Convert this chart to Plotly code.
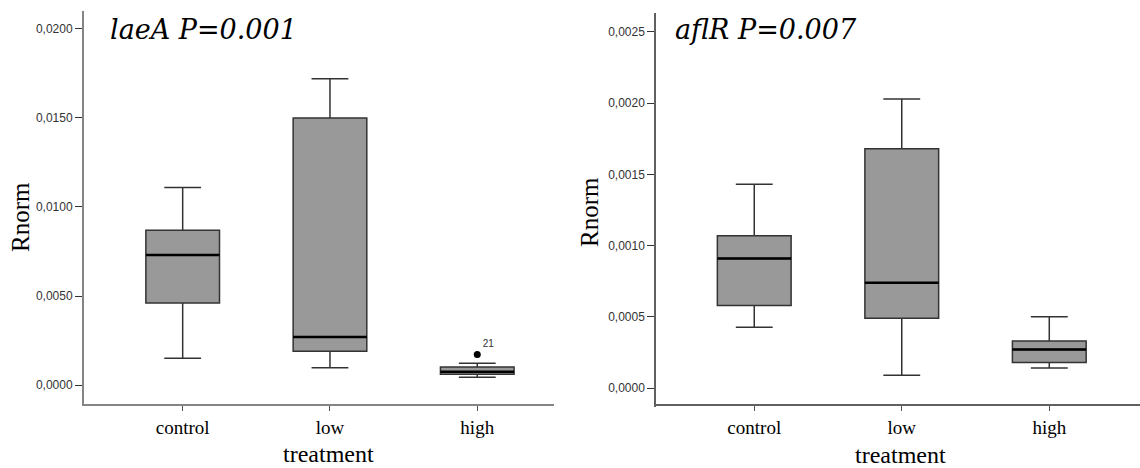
import plotly.graph_objects as go

categories = ["control", "low", "high"]
cat_pos = [0, 1, 2]

# laeA panel
laeA_lower = [0.0015, 0.00097, 0.00043]
laeA_q1 = [0.0046, 0.0019, 0.0006]
laeA_median = [0.0073, 0.0027, 0.00075]
laeA_q3 = [0.0087, 0.0150, 0.00101]
laeA_upper = [0.0111, 0.0172, 0.00122]
laeA_outlier_cat = [2]
laeA_outlier_val = [0.00172]
laeA_outlier_lbl = ["21"]
laeA_ticks = [0.0, 0.005, 0.010, 0.015, 0.020]
laeA_ticktext = ["0,0000", "0,0050", "0,0100", "0,0150", "0,0200"]

# aflR panel
aflR_lower = [0.000426, 0.00009, 0.00014]
aflR_q1 = [0.00058, 0.00049, 0.00018]
aflR_median = [0.00091, 0.00074, 0.00027]
aflR_q3 = [0.00107, 0.00168, 0.00033]
aflR_upper = [0.00143, 0.00203, 0.00050]
aflR_ticks = [0.0, 0.0005, 0.0010, 0.0015, 0.0020, 0.0025]
aflR_ticktext = ["0,0000", "0,0005", "0,0010", "0,0015", "0,0020", "0,0025"]

W, H = 1140, 468
BOX_W = 0.5
SERIF = "Liberation Serif"
TITLE_FONT = "DejaVu Serif"
SANS = "Liberation Sans, Arial, sans-serif"

fig = go.Figure()

def add_panel(xa, ya, lower, q1, med, q3, upper):
    fig.add_trace(go.Box(
        x=cat_pos, q1=q1, median=med, q3=q3, lowerfence=lower, upperfence=upper,
        width=BOX_W, whiskerwidth=0.5, boxpoints=False,
        fillcolor="#999999", line=dict(color="#333333", width=1.5),
        xaxis=xa, yaxis=ya, showlegend=False, hoverinfo="skip"))
    for p, m in zip(cat_pos, med):
        fig.add_trace(go.Scatter(
            x=[p - BOX_W / 2, p + BOX_W / 2], y=[m, m], mode="lines",
            line=dict(color="#000000", width=2.5),
            xaxis=xa, yaxis=ya, showlegend=False, hoverinfo="skip"))

add_panel("x", "y", laeA_lower, laeA_q1, laeA_median, laeA_q3, laeA_upper)
add_panel("x2", "y2", aflR_lower, aflR_q1, aflR_median, aflR_q3, aflR_upper)

fig.add_trace(go.Scatter(
    x=laeA_outlier_cat, y=laeA_outlier_val, mode="markers+text",
    text=laeA_outlier_lbl, textposition="top right",
    textfont=dict(family=SANS, size=10, color="#333333"),
    marker=dict(color="#000000", size=7),
    xaxis="x", yaxis="y", showlegend=False, hoverinfo="skip"))

def xaxis_cfg(domain, rng, color, width):
    return dict(domain=domain, range=rng, tickmode="array", tickvals=cat_pos,
                ticktext=categories, ticks="outside", ticklen=5, tickcolor="#555555",
                showline=True, linecolor=color, linewidth=width, showgrid=False,
                zeroline=False, tickfont=dict(family=SERIF, size=19, color="#000000"),
                fixedrange=True)

def yaxis_cfg(domain, rng, tv, tt, anchor, color, width):
    return dict(domain=domain, range=rng, tickmode="array", tickvals=tv, ticktext=tt,
                ticks="outside", ticklen=7, tickcolor="#333333", showline=True,
                linecolor=color, linewidth=width, showgrid=False, zeroline=False,
                tickfont=dict(family=SANS, size=12, color="#333333"), anchor=anchor,
                fixedrange=True)

fig.update_layout(
    width=W, height=H, margin=dict(l=0, r=0, t=0, b=0),
    paper_bgcolor="white", plot_bgcolor="white",
    xaxis=xaxis_cfg([84 / W, 554 / W], [-0.670, 2.521], "#858585", 2),
    yaxis=yaxis_cfg([(H - 404) / H, (H - 11) / H], [-0.001067, 0.02101],
                    laeA_ticks, laeA_ticktext, "x", "#858585", 2),
    xaxis2=xaxis_cfg([656 / W, 1.0], [-0.666, 2.615], "#606060", 1.5),
    yaxis2=yaxis_cfg([(H - 407) / H, (H - 13) / H], [-0.000133, 0.002633],
                     aflR_ticks, aflR_ticktext, "x2", "#606060", 1.5),
)

def ann(text, x, y, size, angle=0, xanchor="center", family=SERIF, style="normal"):
    fig.add_annotation(text=text, x=x / W, y=1 - y / H, xref="paper", yref="paper",
                       showarrow=False, textangle=angle, xanchor=xanchor, yanchor="middle",
                       font=dict(family=family, size=size, color="#000000", style=style))

ann("laeA P=0.001", 108, 30, 27, xanchor="left", family=TITLE_FONT, style="italic")
ann("aflR P=0.007", 673, 30, 27, xanchor="left", family=TITLE_FONT, style="italic")
ann("Rnorm", 20, 217, 25, angle=-90)
ann("Rnorm", 590, 212, 25, angle=-90)
ann("treatment", 328, 454, 24)
ann("treatment", 900, 455, 24)

fig.write_html("out.html")
